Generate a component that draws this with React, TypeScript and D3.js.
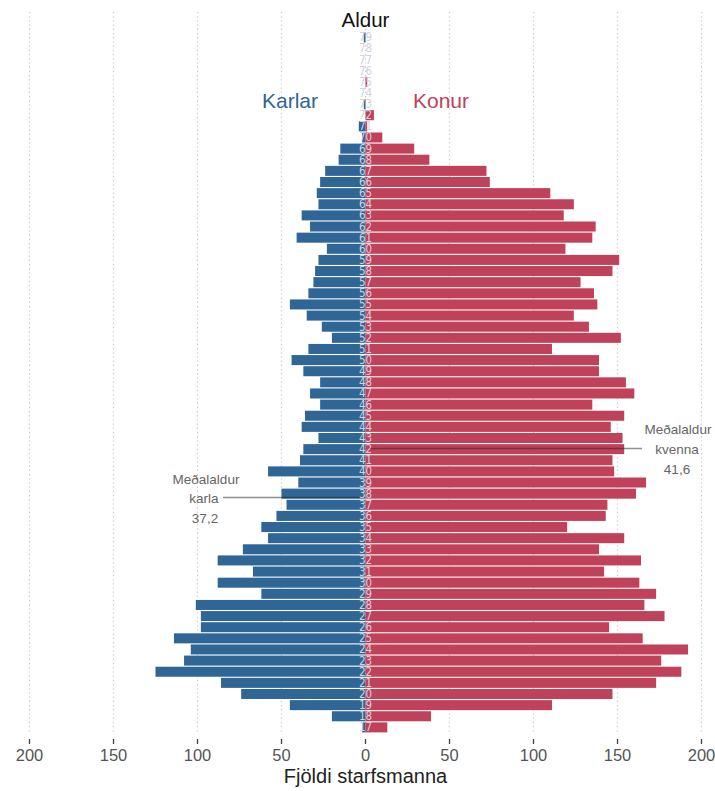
import React from "react";
import * as d3 from "d3";

const ages: number[] = d3.range(17, 80);
// Karlar (men) values by age 17..79
const karlar: number[] = [
  2, 20, 45, 74, 86, 125, 108, 104, 114, 98, 98, 101, 62, 88, 67, 88, 73, 58, 62, 53,
  47, 50, 40, 58, 39, 37, 28, 38, 36, 27, 33, 27, 37, 44, 34, 20, 26, 35, 45, 34,
  31, 30, 28, 23, 41, 33, 38, 28, 29, 27, 24, 16, 15, 2, 4, 0, 1, 0, 0, 0, 0, 0, 1,
];
// Konur (women) values by age 17..79
const konur: number[] = [
  13, 39, 111, 147, 173, 188, 176, 192, 165, 145, 178, 166, 173, 163, 142, 164, 139, 154, 120, 143,
  144, 161, 167, 148, 147, 154, 153, 146, 154, 135, 160, 155, 139, 139, 111, 152, 133, 124, 138, 136,
  128, 147, 151, 119, 135, 137, 118, 124, 110, 74, 72, 38, 29, 10, 1, 5, 0, 0, 1, 0, 0, 0, 0,
];
const xTicks: number[] = [-200, -150, -100, -50, 0, 50, 100, 150, 200];
const medianKarla = 37.2;
const medianKvenna = 41.6;

const W = 715;
const H = 791;
const BLUE = "#2f6695";
const RED = "#c0415a";

export default function App() {
  const x = d3.scaleLinear().domain([-200, 200]).range([29.5, 701.5]);
  const y = d3.scaleLinear().domain([16, 79]).range([733.5, 32.3]);
  const gap = 1.1;
  const font = "Liberation Sans, Arial, sans-serif";
  const narrow = "'DejaVu Sans Condensed', 'Liberation Sans Narrow', Roboto, sans-serif";

  const mY = y(medianKarla);
  const fY = y(medianKvenna);

  return (
    <svg
      width={W}
      height={H}
      style={{ position: "absolute", left: 0, top: 0, background: "#fff" }}
      fontFamily={font}
    >
      {/* grid lines */}
      {xTicks.map((t) => (
        <line
          key={"g" + t}
          x1={x(t)}
          x2={x(t)}
          y1={12}
          y2={734}
          stroke="#c8c8c8"
          strokeWidth={1.2}
          strokeDasharray="1.2,3"
        />
      ))}
      {/* bars */}
      {ages.map((a, i) => (
        <g key={"b" + a}>
          {karlar[i] > 0 && (
            <rect
              x={x(-karlar[i])}
              y={y(a)}
              width={x(0) - x(-karlar[i])}
              height={y(a - 1) - y(a) - gap}
              fill={BLUE}
            />
          )}
          {konur[i] > 0 && (
            <rect
              x={x(0)}
              y={y(a)}
              width={x(konur[i]) - x(0)}
              height={y(a - 1) - y(a) - gap}
              fill={RED}
            />
          )}
        </g>
      ))}
      {/* median lines */}
      <line x1={223} x2={x(-2)} y1={mY} y2={mY} stroke="#222" strokeOpacity={0.5} strokeWidth={1.4} />
      <line x1={x(2)} x2={642} y1={fY} y2={fY} stroke="#222" strokeOpacity={0.5} strokeWidth={1.4} />
      {/* age labels */}
      {ages.map((a) => (
        <text
          key={"l" + a}
          x={x(0)}
          y={(y(a) + y(a - 1) - gap) / 2}
          textAnchor="middle"
          dominantBaseline="central"
          fontFamily={narrow}
          fontSize={11.5}
          fill="#d0d2de"
        >
          {a}
        </text>
      ))}
      {/* annotations */}
      <g fill="#666" fontSize={13.5} textAnchor="middle" dominantBaseline="central">
        <text x={206} y={479}>Meðalaldur</text>
        <text x={204} y={498}>karla</text>
        <text x={205} y={518}>37,2</text>
        <text x={678} y={429}>Meðalaldur</text>
        <text x={677} y={449}>kvenna</text>
        <text x={677} y={469}>41,6</text>
      </g>
      {/* titles */}
      <text x={x(0)} y={19} textAnchor="middle" dominantBaseline="central" fontSize={20.5} fill="#111">
        Aldur
      </text>
      <text x={290} y={100} textAnchor="middle" dominantBaseline="central" fontSize={21} fill={BLUE}>
        Karlar
      </text>
      <text x={441} y={100} textAnchor="middle" dominantBaseline="central" fontSize={21} fill={RED}>
        Konur
      </text>
      {/* x axis */}
      {xTicks.map((t) => (
        <g key={"t" + t}>
          <line x1={x(t)} x2={x(t)} y1={739} y2={744} stroke="#444" strokeWidth={1.3} />
          <text
            x={x(t)}
            y={755}
            textAnchor="middle"
            dominantBaseline="central"
            fontSize={16.5}
            fill="#555"
          >
            {Math.abs(t)}
          </text>
        </g>
      ))}
      <text x={x(0)} y={776} textAnchor="middle" dominantBaseline="central" fontSize={20} fill="#222">
        Fjöldi starfsmanna
      </text>
    </svg>
  );
}
